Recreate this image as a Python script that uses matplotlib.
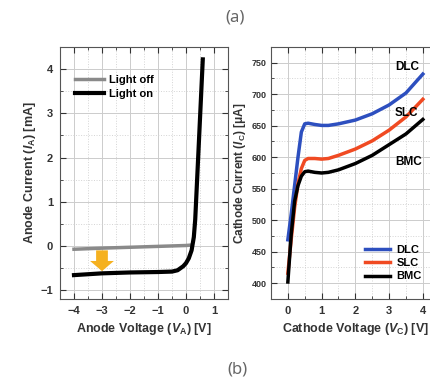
import numpy as np
import matplotlib
matplotlib.use('Agg')
import matplotlib.pyplot as plt
from matplotlib.ticker import MultipleLocator

plt.rcParams['font.family'] = ['Liberation Sans', 'DejaVu Sans']
plt.rcParams['font.weight'] = 'bold'
plt.rcParams['axes.labelweight'] = 'bold'
plt.rcParams['mathtext.fontset'] = 'custom'
plt.rcParams['mathtext.rm'] = 'Liberation Sans:bold'
plt.rcParams['mathtext.it'] = 'Liberation Sans:bold:italic'
plt.rcParams['mathtext.bf'] = 'Liberation Sans:bold'

# (a) anode I-V
va_off = [-4, -3, -2, -1, 0, 0.2]
ia_off = [-0.075, -0.05, -0.03, -0.01, 0.01, 0.02]

va_on = [-4, -3.5, -3, -2, -1, -0.5, -0.3, -0.1, 0, 0.1, 0.2, 0.28, 0.33, 0.36, 0.45, 0.6]
ia_on = [-0.66, -0.64, -0.62, -0.60, -0.59, -0.58, -0.55, -0.46, -0.39, -0.28, -0.1, 0.2, 0.6, 1.0, 2.2, 4.22]

# (b) cathode I-V
vc = [0, 0.1, 0.2, 0.3, 0.4, 0.5, 0.6, 0.8, 1.0, 1.2, 1.5, 2.0, 2.5, 3.0, 3.5, 4.0]
ic_dlc = [469, 510, 555, 600, 640, 653, 654, 652, 650.5, 650.5, 653, 659, 669, 683, 702, 732]
ic_slc = [416, 470, 520, 558, 582, 595, 598, 598, 597, 598, 603, 613, 626, 643, 664, 692]
ic_bmc = [402, 478, 530, 555, 570, 577, 578, 576, 575, 576, 580, 590, 603, 620, 637, 660]
names = ['DLC', 'SLC', 'BMC']
colors = ['#2d4fbf', '#f04a22', '#000000']

fig = plt.figure(figsize=(4.3, 3.82), dpi=100)

def style(ax, xminor, yminor):
    ax.xaxis.set_minor_locator(MultipleLocator(xminor))
    ax.yaxis.set_minor_locator(MultipleLocator(yminor))
    ax.grid(which='major', color='#cccccc', lw=0.7)
    ax.grid(which='minor', color='#d4d4d4', lw=0.7, ls=':')
    ax.tick_params(which='both', direction='in', top=True, right=True,
                   labelsize=8, colors='#333333', pad=5)
    ax.tick_params(which='major', length=4)
    ax.tick_params(which='minor', length=2)
    for s in ax.spines.values():
        s.set_color('#555555')
        s.set_linewidth(0.8)
    for lab in ax.get_xticklabels() + ax.get_yticklabels():
        lab.set_fontweight('bold')

ax1 = fig.add_axes([0.1395, 0.2173, 0.3907, 0.6597])
ax1.plot(va_off, ia_off, color='#8a8a8a', lw=2.5, label='Light off')
ax1.plot(va_on, ia_on, color='black', lw=3, label='Light on')
ax1.arrow(-3, -0.1, 0, -0.47, width=0.42, head_width=0.85, head_length=0.23,
          length_includes_head=True, color='#f5b120', lw=0, zorder=3)
ax1.set_xlim(-4.5, 1.5)
ax1.set_ylim(-1.2, 4.5)
ax1.set_xticks([-4, -3, -2, -1, 0, 1])
ax1.set_yticks([-1, 0, 1, 2, 3, 4])
style(ax1, 0.5, 0.5)
ax1.set_xlabel(r'Anode Voltage ($V_{\mathrm{A}}$) [V]', fontsize=9, color='#333333', labelpad=4)
ax1.set_ylabel(r'Anode Current ($I_{\mathrm{A}}$) [mA]', fontsize=9, color='#333333', labelpad=2)
leg = ax1.legend(loc='upper left', bbox_to_anchor=(0.03, 0.93), frameon=False,
                 fontsize=8, handlelength=2.6, handletextpad=0.5, labelspacing=0.35)
for t in leg.get_texts():
    t.set_fontweight('bold')

ax2 = fig.add_axes([0.6302, 0.2173, 0.3924, 0.6597])
for y, n, c in zip([ic_dlc, ic_slc, ic_bmc], names, colors):
    ax2.plot(vc, y, color=c, lw=2.5, label=n)
ax2.set_xlim(-0.5, 4.5)
ax2.set_ylim(375, 775)
ax2.set_xticks([0, 1, 2, 3, 4])
ax2.set_yticks([400, 450, 500, 550, 600, 650, 700, 750])
style(ax2, 0.5, 25)
ax2.tick_params(axis='y', labelsize=6.5, pad=3)
for lab in ax2.get_yticklabels():
    lab.set_fontweight('bold')
ax2.text(3.55, 743, 'DLC', fontsize=8.5, fontweight='bold', ha='center', va='center')
ax2.text(3.5, 670, 'SLC', fontsize=8.5, fontweight='bold', ha='center', va='center')
ax2.text(3.58, 593, 'BMC', fontsize=8.5, fontweight='bold', ha='center', va='center')
ax2.set_xlabel(r'Cathode Voltage ($V_{\mathrm{C}}$) [V]', fontsize=9, color='#333333', labelpad=4)
ax2.set_ylabel(r'Cathode Current ($I_{\mathrm{C}}$) [$\mathrm{\mu}$A]', fontsize=8.5, color='#333333', labelpad=3)
leg2 = ax2.legend(loc='lower left', bbox_to_anchor=(0.5, 0.03), frameon=False,
                  fontsize=8, handlelength=2.2, handletextpad=0.6, labelspacing=0.3)
for t in leg2.get_texts():
    t.set_fontweight('bold')

fig.text(0.547, 0.955, '(a)', fontsize=12, color='#666666', fontweight='normal',
         family=['Noto Sans', 'DejaVu Sans'], ha='center', va='center')
fig.text(0.553, 0.032, '(b)', fontsize=12, color='#666666', fontweight='normal',
         family=['Noto Sans', 'DejaVu Sans'], ha='center', va='center')

fig.savefig('out.png', dpi=100)
